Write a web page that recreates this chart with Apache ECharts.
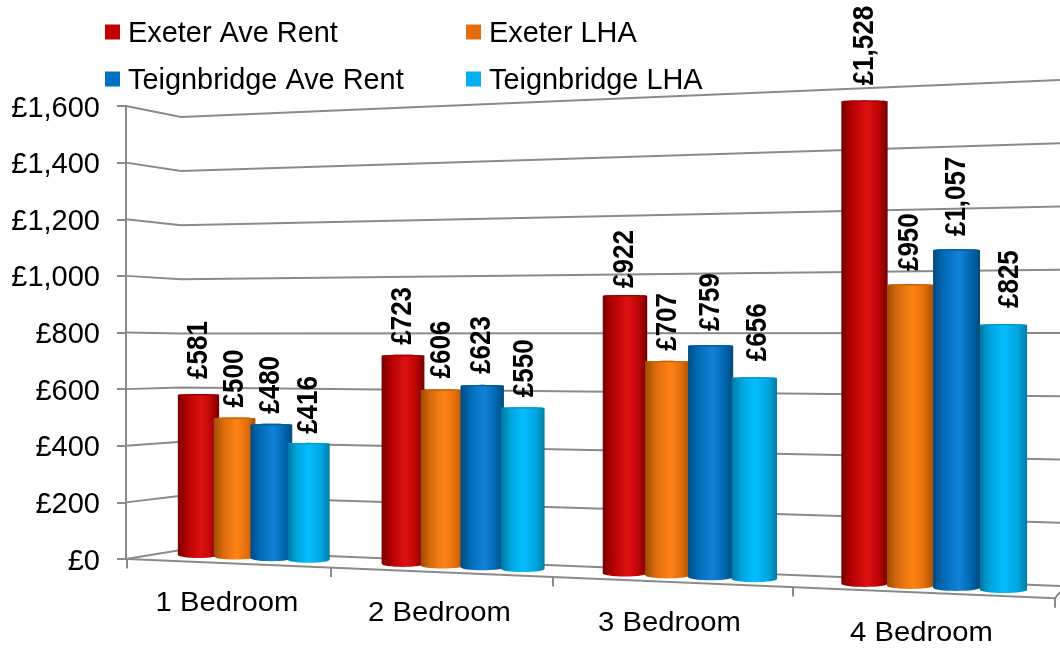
<!DOCTYPE html>
<html><head><meta charset="utf-8">
<style>html,body{margin:0;padding:0;background:#fff}#c{width:1060px;height:651px}</style>
<script src="https://cdn.jsdelivr.net/npm/echarts@6/dist/echarts.min.js"></script>
</head><body><div id="c"></div>
<script>
const categories = ['1 Bedroom','2 Bedroom','3 Bedroom','4 Bedroom'];
const exeterRent = [581,723,922,1528];
const exeterLHA = [500,606,707,950];
const teignRent = [480,623,759,1057];
const teignLHA = [416,550,656,825];
const valueTicks = [0,200,400,600,800,1000,1200,1400,1600];
const seriesNames = ['Exeter Ave Rent','Exeter LHA','Teignbridge Ave Rent','Teignbridge LHA'];
const seriesValues = [exeterRent,exeterLHA,teignRent,teignLHA];
const legendColors = ['#C00000','#E46C0A','#0070C0','#00B0F0'];

// styling & perspective constants
const FONT = '"Liberation Sans", Arial, sans-serif';
const LINE = '#8A8A8A';
const STOPS = [
 [[0,'#780000'],[.2,'#B00000'],[.55,'#DE1212'],[.78,'#C20606'],[1,'#780000']],
 [[0,'#9C4C02'],[.22,'#D86A0C'],[.55,'#FF8416'],[.8,'#E56E0A'],[1,'#A45204']],
 [[0,'#024A7E'],[.22,'#006BB6'],[.55,'#1282D8'],[.8,'#0068B2'],[1,'#02497C']],
 [[0,'#00779F'],[.22,'#00A4DE'],[.5,'#05BEFF'],[.8,'#00A6E0'],[1,'#007DA6']]
];
const CAP = ['#A80000','#C86208','#00609E','#009CD2'];
const labelLift = [[15,10,10,9],[10,11,11,10],[7,10,14,16],[15,13,13,16]];
const tickX = [127,331,553,793,1055];
const xLabelPos = [[227,604],[439.5,614],[669.5,624],[921.5,634]];
const GRID_SCALE = 453/1600;
const depthX = u => 198.5 + 195.75*u + 8.75*u*u;
const barW = x => 41.3 + (x-198)*0.0075;
const baseY = x => 558 + (x-198)*0.0434;
const ratio = x => (0.2823 + (x-198)*0.0000542)/GRID_SCALE;
const frontY = x => 559 + (x-127)*0.0422;

function barGeom(params, api, k, v, s){
  const band = api.size([1,0])[0];
  const c0 = api.coord([k,0]), c = api.coord([k,v]);
  const u = (c0[0]-params.coordSys.x)/band - .5 + s*.183;
  const x = depthX(u), h = (c0[1]-c[1])*ratio(x);
  const b = baseY(x);
  return {x, w:barW(x), bottom:b, top:b-h};
}
function barRender(s){
  return function(params, api){
    const g = barGeom(params, api, api.value(0), api.value(1), s);
    const n = 16, pts = [], rt = 1.0, rb = 3.2, cap=[];
    for(let i=0;i<=n;i++){
      const t = Math.PI*i/n, cx = g.x - Math.cos(t)*g.w/2;
      pts.push([cx, g.top + rt - Math.sin(t)*rt]);
      cap.push([cx, g.top + rt - Math.sin(t)*rt]);
    }
    for(let i=n;i>=0;i--){
      const t = Math.PI*i/n, cx = g.x - Math.cos(t)*g.w/2;
      pts.push([cx, g.bottom - rb + Math.sin(t)*rb]);
    }
    for(let i=n;i>=0;i--){
      const t = Math.PI*i/n, cx = g.x - Math.cos(t)*g.w/2;
      cap.push([cx, g.top + rt + Math.sin(t)*.5]);
    }
    return {type:'group',children:[
      {type:'polygon',shape:{points:pts},style:{fill:new echarts.graphic.LinearGradient(0,0,1,0,STOPS[s].map(a=>({offset:a[0],color:a[1]})))}},
      {type:'polygon',shape:{points:cap},style:{fill:CAP[s]}}
    ]};
  };
}
function gridRender(params, api){
  const y = api.coord([0,api.value(0)])[1];
  const y0 = api.coord([0,0])[1];
  const d = y-y0;
  const L = api.coord([0,0])[0] - (api.size([1,0])[0]/2);
  return {type:'polyline',shape:{points:[[L,y],[181,550+d*.956],[1060,586+d*1.117]]},
    style:{stroke:LINE,lineWidth:2,fill:null}};
}
function floorRender(params, api){
  const ch = [];
  ch.push({type:'polyline',shape:{points:[[127,frontY(127)],[1055,frontY(1055)],[1060,frontY(1055)-6]]},style:{stroke:LINE,lineWidth:2,fill:null}});
  tickX.forEach(x=>ch.push({type:'line',shape:{x1:x,y1:frontY(x),x2:x,y2:frontY(x)+9.5},style:{stroke:LINE,lineWidth:2}}));
  return {type:'group',children:ch};
}
function xLabelRender(params, api){
  const k = api.value(0);
  return {type:'text',x:xLabelPos[k][0],y:xLabelPos[k][1],scaleX:1.09,
    style:{text:categories[k],font:'26.8px '+FONT,fill:'#000',align:'center',verticalAlign:'middle'}};
}
function labelRender(params, api){
  const k = api.value(0), s = api.value(1), v = api.value(2);
  const g = barGeom(params, api, k, v, s);
  const nudge = s===3 ? k*2 : 0;
  return {type:'text',x:g.x+nudge,y:g.top-labelLift[k][s],rotation:Math.PI/2,scaleY:1.13,
    style:{text:'£'+v.toLocaleString('en-GB'),font:'bold 26px '+FONT,fill:'#000',align:'left',verticalAlign:'middle'}};
}
const labelData = [];
seriesValues.forEach((vals,s)=>vals.forEach((v,k)=>labelData.push([k,s,v])));

const chart = echarts.init(document.getElementById('c'),null,{renderer:'canvas'});
const legendBase = {orient:'vertical',icon:'rect',itemWidth:15,itemHeight:15,itemGap:18,padding:0,
  formatter:'{a|{name}}',
  textStyle:{fontFamily:FONT,fontSize:28.9,color:'#000',
    rich:{a:{fontFamily:FONT,fontSize:28.9,color:'#000',padding:[5,0,0,3]}}},
  selectedMode:false,top:20};
chart.setOption({
  animation:false,backgroundColor:'#fff',color:legendColors,
  legend:[
    Object.assign({},legendBase,{left:105,data:[seriesNames[0],seriesNames[2]]}),
    Object.assign({},legendBase,{left:466,data:[seriesNames[1],seriesNames[3]]})
  ],
  grid:{left:126,top:106,width:934,height:453},
  xAxis:{type:'category',data:categories,axisLine:{show:false},axisTick:{show:false},axisLabel:{show:false},splitLine:{show:false}},
  yAxis:{type:'value',min:0,max:1600,interval:200,splitLine:{show:false},
    axisLine:{show:true,lineStyle:{color:LINE,width:2}},
    axisTick:{show:true,length:9,lineStyle:{color:LINE,width:2}},
    axisLabel:{margin:26,verticalAlign:'top',lineHeight:5,fontFamily:FONT,fontSize:29,color:'#000',formatter:v=>'£'+v.toLocaleString('en-GB')}},
  series:[
    {type:'custom',name:'grid',renderItem:gridRender,data:valueTicks.map(v=>[v]),encode:{y:0},clip:false,silent:true,z:1},
    {type:'custom',name:'floor',renderItem:floorRender,data:[[0]],clip:false,silent:true,z:1},
    ...seriesNames.map((n,s)=>({type:'custom',name:n,renderItem:barRender(s),clip:false,z:2,
       itemStyle:{color:legendColors[s]},
       encode:{x:0,y:1},data:seriesValues[s].map((v,k)=>[k,v])})),
    {type:'custom',name:'labels',renderItem:labelRender,data:labelData,clip:false,silent:true,z:3,encode:{x:0}},
    {type:'custom',name:'categories',renderItem:xLabelRender,data:categories.map((c,k)=>[k]),clip:false,silent:true,z:3,encode:{x:0}}
  ]
});
</script></body></html>
